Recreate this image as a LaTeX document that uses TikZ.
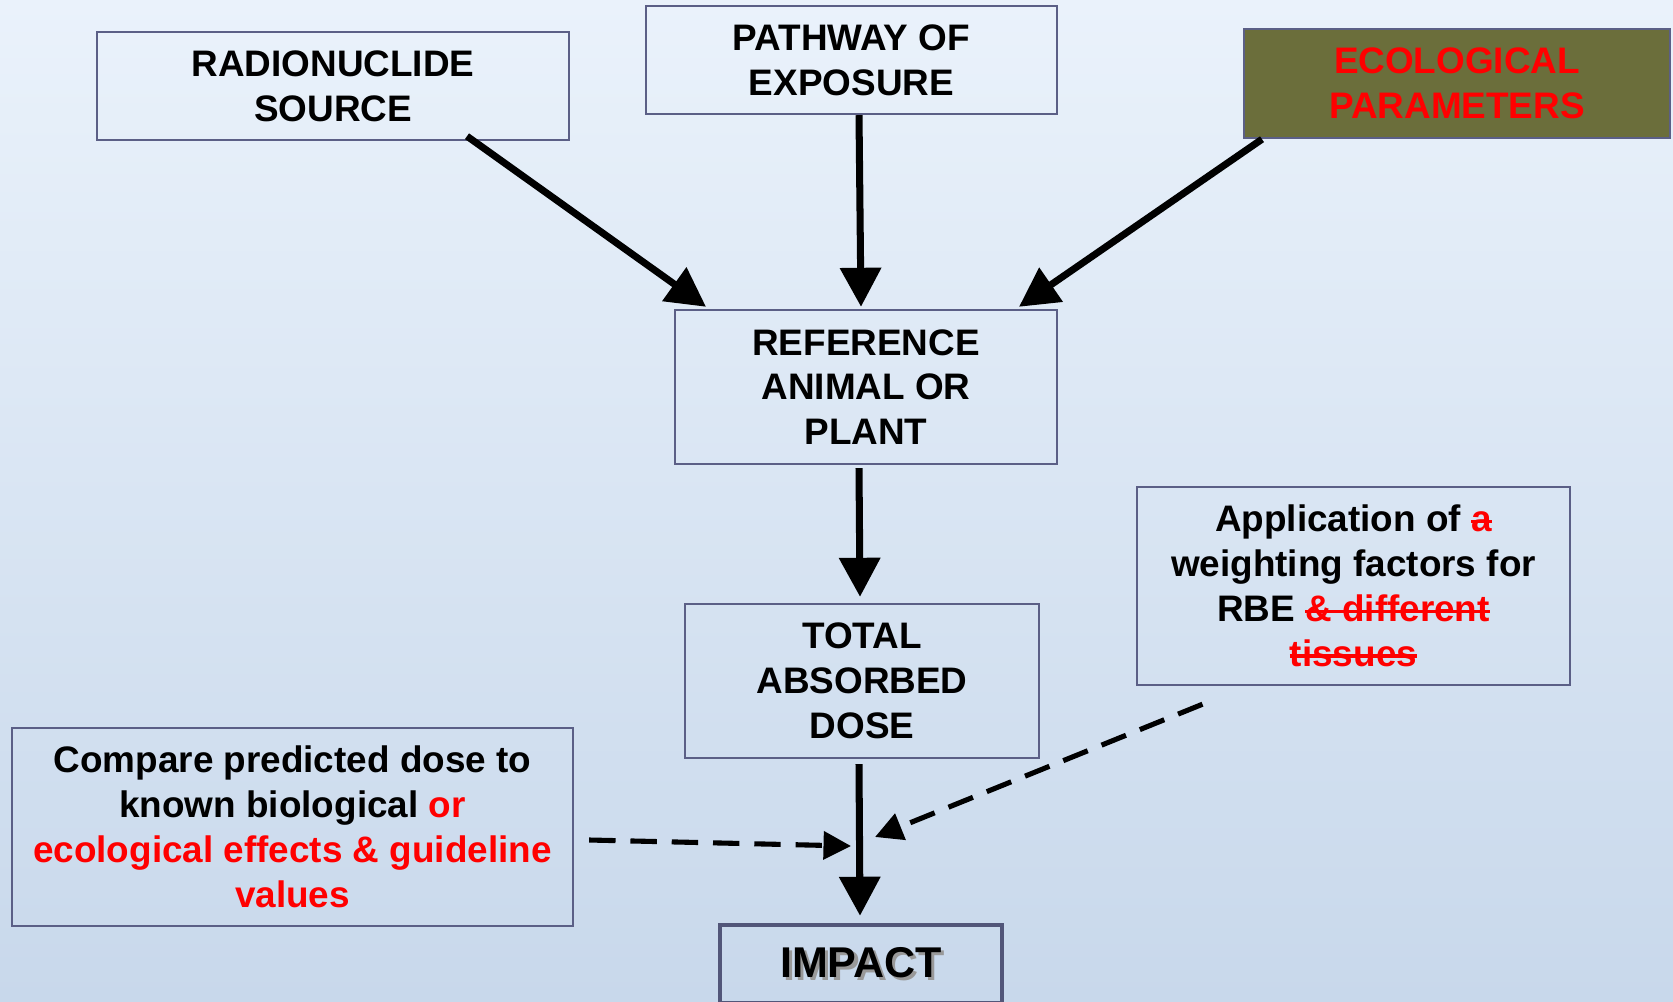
\documentclass[tikz,border=0pt]{standalone}
\usepackage{fontspec}
\setmainfont{Liberation Sans}
\usetikzlibrary{arrows.meta,calc}
\definecolor{boxline}{HTML}{5B5F86}
\definecolor{ecofill}{HTML}{6B6E3B}
\definecolor{bgtop}{HTML}{EAF2FB}
\definecolor{bgbot}{HTML}{C8D8EB}
\definecolor{warnred}{HTML}{FF0000}
\newcommand{\shadowed}[1]{\leavevmode\rlap{\hspace{1.8pt}\raisebox{-1.8pt}{\textcolor{black!40}{#1}}}#1}
\newsavebox{\strikebox}
\newcommand{\struck}[1]{\sbox{\strikebox}{\color{warnred}#1}\rlap{\usebox{\strikebox}}\textcolor{warnred}{\rule[0.24em]{\wd\strikebox}{1.8pt}}}

\tikzset{
	box/.style={draw=boxline, line width=1.4pt, align=center, inner sep=0pt,
		font=\fontsize{21pt}{25.5pt}\selectfont\bfseries},
	impactbox/.style={box, line width=2.6pt, draw=boxline!90!black,
		font=\fontsize{24.5pt}{29pt}\selectfont\bfseries},
	flow/.style={line width=4pt, -{Triangle[length=0.78cm,width=0.8cm]}},
	hint/.style={line width=2.9pt, dash pattern=on 15pt off 8.5pt,
		-{Triangle[length=0.55cm,width=0.55cm]}}
}

\begin{document}
\begin{tikzpicture}[x=0.02cm,y=-0.02cm]
	
	% Background
	\useasboundingbox (0,0) rectangle (1673,1001);
	\shade[top color=bgtop, bottom color=bgbot] (0,0) rectangle (1673,1001);
	
	% Draw the three inputs
	\node[box, minimum width=9.44cm, minimum height=2.16cm] (source) at (333,86) {RADIONUCLIDE\\SOURCE};
	\node[box, minimum width=8.22cm, minimum height=2.16cm] (pathway) at (851.5,60) {PATHWAY OF\\EXPOSURE};
	\node[box, fill=ecofill, text=warnred, minimum width=8.52cm, minimum height=2.18cm] (eco) at (1457,83.5) {ECOLOGICAL\\PARAMETERS};
	
	% Draw the middle chain
	\node[box, minimum width=7.64cm, minimum height=3.08cm] (animal) at (866,387) {REFERENCE\\ANIMAL OR\\PLANT};
	\node[box, minimum width=7.08cm, minimum height=3.08cm] (dose) at (862,681) {TOTAL\\ABSORBED\\DOSE};
	\node[impactbox, minimum width=5.64cm, minimum height=1.56cm] (impact) at (861,964) {\shadowed{IMPACT}};
	
	% Draw the side notes
	\node[box, minimum width=8.66cm, minimum height=3.96cm] (weight) at (1353.5,586)
		{Application of \struck{a}\\weighting factors for\\RBE \struck{\& different}\\\struck{tissues}};
	\node[box, minimum width=11.22cm, minimum height=3.96cm] (compare) at (292.5,827)
		{Compare predicted dose to\\known biological \textcolor{warnred}{or}\\\textcolor{warnred}{ecological effects \& guideline}\\\textcolor{warnred}{values}};
	
	% Draw the arrows
	\draw[flow] ($(source.south)+(134,-5)$) -- ($(animal.north)+(-160,-2)$);
	\draw[flow] ($(pathway.south)+(7.5,0)$) -- ($(animal.north)+(-5,-2)$);
	\draw[flow] ($(eco.south)+(-195,0)$) -- ($(animal.north)+(153,-2)$);
	\draw[flow] ($(animal.south)+(-7,3)$) -- ($(dose.north)+(-2,-6)$);
	\draw[flow] ($(dose.south)+(-3,5)$) -- ($(impact.north)+(-1,-7)$);
	
	% Dashed inputs to the impact arrow
	\coordinate (joinL) at (851,846);
	\coordinate (joinR) at (875,837);
	\draw[hint] ($(compare.east)+(15,13)$) -- (joinL);
	\draw[hint] ($(weight.south)+(-151,18)$) -- (joinR);
\end{tikzpicture}
\end{document}
